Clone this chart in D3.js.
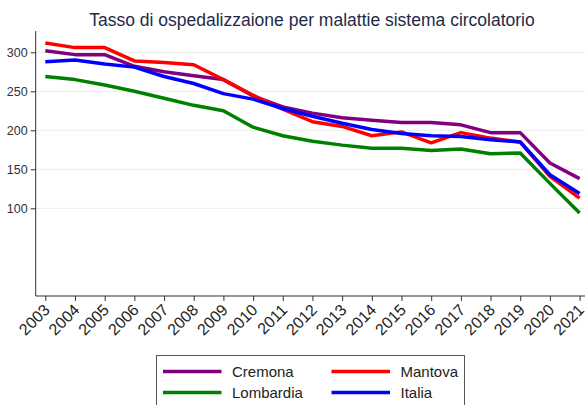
<!DOCTYPE html>
<html lang="it">
<head>
<meta charset="UTF-8">
<script src="https://d3js.org/d3.v7.min.js"></script>
<style>
    body { margin: 0; background: white; }
    svg { font-family: "Liberation Sans", Arial, sans-serif; display: block; }
</style>
</head>
<body>
<div id="chart"></div>
<script>
    const years = [2003, 2004, 2005, 2006, 2007, 2008, 2009, 2010, 2011, 2012,
                   2013, 2014, 2015, 2016, 2017, 2018, 2019, 2020, 2021];
    const cremona   = [302, 297, 297, 282, 275, 270, 265, 244, 230, 222, 216, 213, 210, 210, 207, 197, 197, 158, 138];
    const mantova   = [312, 306, 306, 289, 287, 284, 265, 245, 227, 211, 205, 193, 198, 184, 197, 190, 185, 141, 113];
    const lombardia = [269, 265, 258, 250, 241, 232, 225, 204, 193, 186, 181, 177, 177, 174, 176, 170, 171, 132, 94];
    const italia    = [288, 290, 285, 281, 269, 260, 247, 240, 228, 218, 209, 201, 196, 193, 192, 188, 185, 143, 119];
    const yTicks = [100, 150, 200, 250, 300];

    const series = [
        { name: "Cremona", values: cremona, color: "#800080" },
        { name: "Mantova", values: mantova, color: "#ff0000" },
        { name: "Lombardia", values: lombardia, color: "#008000" },
        { name: "Italia", values: italia, color: "#0000ff" }
    ];

    const width = 587, height = 405;
    const svg = d3.select("#chart").append("svg")
        .attr("width", width)
        .attr("height", height);

    // plot area
    const plotLeft = 35.7, plotTop = 31, plotBottom = 296, plotRight = 585;

    const x = d3.scalePoint().domain(years).range([45.3, 579.6]);
    const y = d3.scaleLinear().domain([-12.4, 327.3]).range([plotBottom, plotTop]);

    // title
    svg.append("text")
        .attr("x", 312)
        .attr("y", 26)
        .attr("text-anchor", "middle")
        .attr("font-size", 17.5)
        .attr("fill", "#1f2a48")
        .text("Tasso di ospedalizzaione per malattie sistema circolatorio");

    // grid
    svg.append("g")
        .selectAll("line")
        .data(yTicks)
        .join("line")
        .attr("x1", plotLeft)
        .attr("x2", plotRight)
        .attr("y1", d => y(d))
        .attr("y2", d => y(d))
        .attr("stroke", "#ececec")
        .attr("stroke-width", 1);

    // lines
    const line = d3.line()
        .x((d, i) => x(years[i]))
        .y(d => y(d));

    svg.append("g")
        .selectAll("path")
        .data(series)
        .join("path")
        .attr("d", d => line(d.values))
        .attr("fill", "none")
        .attr("stroke", d => d.color)
        .attr("stroke-width", 3.5)
        .attr("stroke-linejoin", "round");

    // y axis
    const yAxis = svg.append("g")
        .attr("transform", `translate(${plotLeft},0)`)
        .call(d3.axisLeft(y).tickValues(yTicks).tickSize(5).tickPadding(3));
    yAxis.select(".domain").attr("d", `M0,${plotTop}V${plotBottom}`).attr("stroke", "#333");
    yAxis.selectAll(".tick line").attr("stroke", "#333");
    yAxis.selectAll(".tick text")
        .attr("font-size", 12.5)
        .attr("fill", "#333")
        .attr("font-family", "Liberation Sans, Arial, sans-serif");

    // x axis
    const xAxis = svg.append("g")
        .attr("transform", `translate(0,${plotBottom})`)
        .call(d3.axisBottom(x).tickSize(5).tickPadding(2));
    xAxis.select(".domain").attr("d", `M${plotLeft},0H${plotRight}`).attr("stroke", "#333");
    xAxis.selectAll(".tick line").attr("stroke", "#333");
    xAxis.selectAll(".tick text")
        .attr("font-size", 16)
        .attr("fill", "#222")
        .attr("font-family", "Liberation Sans, Arial, sans-serif")
        .attr("text-anchor", "end")
        .attr("dy", null)
        .attr("y", 0)
        .attr("transform", "translate(2,12) rotate(-45)")
        .attr("dominant-baseline", "middle");

    // legend
    const legend = svg.append("g");
    legend.append("rect")
        .attr("x", 156.5)
        .attr("y", 355.5)
        .attr("width", 308)
        .attr("height", 60)
        .attr("fill", "white")
        .attr("stroke", "#555")
        .attr("stroke-width", 1);

    const items = legend.selectAll("g.item")
        .data(series)
        .join("g")
        .attr("class", "item")
        .attr("transform", (d, i) => `translate(${i % 2 === 0 ? 163 : 331.5},${i < 2 ? 371.5 : 392.5})`);
    items.append("line")
        .attr("x1", 0)
        .attr("x2", 58.5)
        .attr("stroke", d => d.color)
        .attr("stroke-width", 3.5);
    items.append("text")
        .attr("x", 69)
        .attr("dy", "0.35em")
        .attr("font-size", 15)
        .attr("fill", "#222")
        .text(d => d.name);
</script>
</body>
</html>
